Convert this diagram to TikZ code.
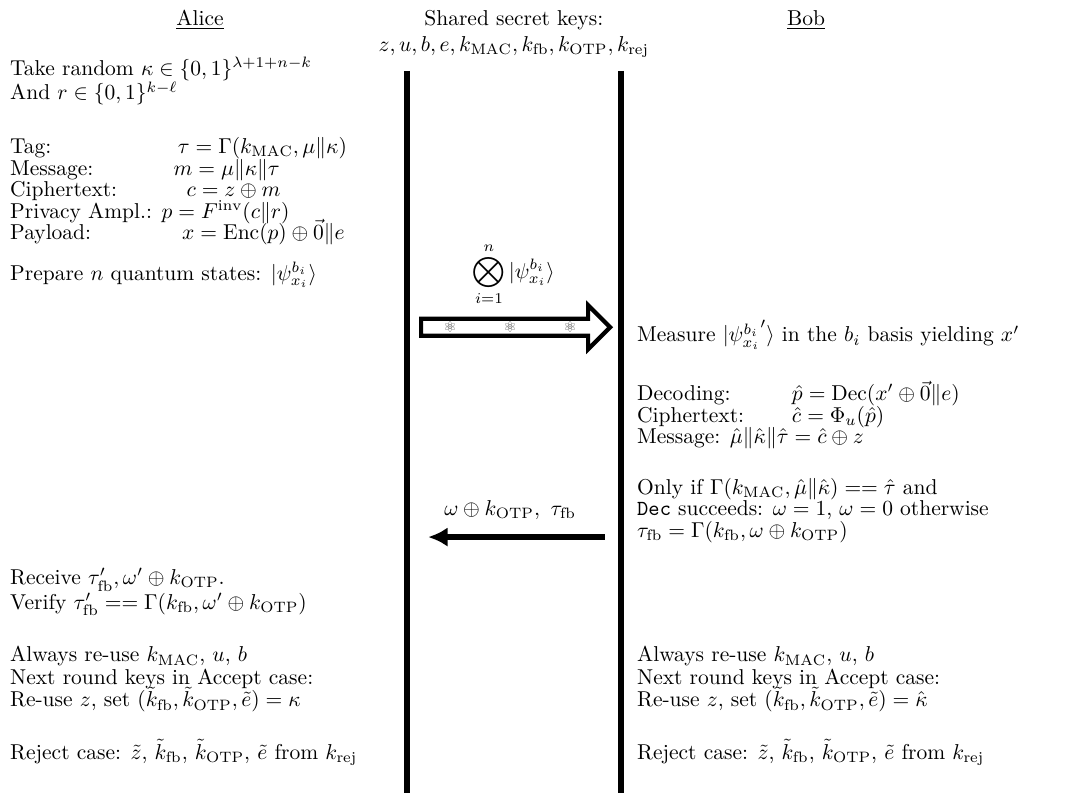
\documentclass[tikz,border=0pt]{standalone}
\usepackage{amsmath}
\usepackage{fontspec}
\newfontfamily\atomfont{DejaVu Sans}
\usetikzlibrary{shapes.arrows,arrows.meta}
% lines of one step block, first baseline on top, fixed line distance
\newcommand{\protocolsteps}[2]{\vtop{\baselineskip=#1\lineskiplimit=-\maxdimen
    \halign{##\hfil\cr#2\crcr}}}

\begin{document}
\begin{tikzpicture}[>=latex,
    txt/.style={anchor=base west,inner sep=0pt},
    party/.style={anchor=base,inner sep=0pt},
    wall/.style={line width=2.8pt},
    qstate/.style={single arrow,draw,line width=1.9pt,fill=white,inner sep=3pt,
        single arrow head extend=6.3pt,minimum height=3.09cm},
    atom/.style={inner sep=0pt,font=\atomfont\scriptsize,text=black!65}]
    \useasboundingbox (0,0) rectangle (17.46,-12.96);

    % headers
    \node[party] (alice) at (3.27,-0.41) {\underline{Alice}};
    \node[party] (bob) at (13.18,-0.41) {\underline{Bob}};
    \node[party] (keys) at (8.40,-0.41) {\vtop{\baselineskip=12.2pt\halign{\hfil#\hfil\cr
        Shared secret keys:\cr
        $z,u,b,e,k_{\mathrm{MAC}},k_{\mathrm{fb}},k_{\mathrm{OTP}},k_{\mathrm{rej}}$\crcr}}};

    % the two walls
    \coordinate (atop) at (6.65,-1.16);
    \coordinate (abot) at (6.65,-12.96);
    \coordinate (btop) at (10.15,-1.16);
    \coordinate (bbot) at (10.15,-12.96);
    \draw [wall] (atop) -- (abot);
    \draw [wall] (btop) -- (bbot);

    % Alice
    \node[txt] (alicerand) at (0.16,-1.23) {\protocolsteps{11.5pt}{Take random $\kappa\in\{0,1\}^{\lambda+1+n-k}$\cr
        And $r\in\{0,1\}^{k-\ell}$}};
    \node[txt] (alicemsg) at (0.16,-2.51) {\protocolsteps{10pt}{\makebox[78pt][l]{Tag:}$\tau=\Gamma(k_{\mathrm{MAC}},\mu\|\kappa)$\cr
        \makebox[76pt][l]{Message:}$m=\mu\|\kappa\|\tau$\cr
        \makebox[82pt][l]{Ciphertext:}$c=z\oplus m$\cr
        Privacy Ampl.: $p=F^{\mathrm{inv}}(c\|r)$\cr
        \makebox[80pt][l]{Payload:}$x=\mathrm{Enc}(p)\oplus\vec{0}\|e$}};
    \node[txt] (aliceprep) at (0.16,-4.58) {Prepare $n$ quantum states: $|\psi^{b_i}_{x_i}\rangle$};
    \node[txt] (alicecheck) at (0.16,-9.56) {\protocolsteps{11.5pt}{Receive $\tau'_{\mathrm{fb}},\omega'\oplus k_{\mathrm{OTP}}$.\cr
        Verify $\tau'_{\mathrm{fb}}==\Gamma(k_{\mathrm{fb}},\omega'\oplus k_{\mathrm{OTP}})$}};
    \node[txt] (alicenext) at (0.16,-10.82) {\protocolsteps{10.5pt}{Always re-use $k_{\mathrm{MAC}}$, $u$, $b$\cr
        Next round keys in Accept case:\cr
        Re-use $z$, set $(\tilde{k}_{\mathrm{fb}},\tilde{k}_{\mathrm{OTP}},\tilde{e})=\kappa$}};
    \node[txt] (alicerej) at (0.16,-12.41) {Reject case: $\tilde{z}$, $\tilde{k}_{\mathrm{fb}}$, $\tilde{k}_{\mathrm{OTP}}$, $\tilde{e}$ from $k_{\mathrm{rej}}$};

    % quantum channel
    \node (qlabel) at (8.40,-4.48) {$\displaystyle\bigotimes_{i=1}^{n}|\psi^{b_i}_{x_i}\rangle$};
    \node[qstate] (qchannel) at (8.36,-5.35) {};
    \foreach \x [count=\i] in {7.36,8.34,9.32}
        \node[atom] (atom\i) at (\x,-5.35) {⚛};

    % Bob
    \node[txt] (bobmeas) at (10.41,-5.59) {Measure $|{\psi^{b_i}_{x_i}}'\rangle$ in the $b_i$ basis yielding $x'$};
    \node[txt] (bobdec) at (10.41,-6.55) {\protocolsteps{10pt}{\makebox[72pt][l]{Decoding:}$\hat{p}=\mathrm{Dec}(x'\oplus\vec{0}\|e)$\cr
        \makebox[72pt][l]{Ciphertext:}$\hat{c}=\Phi_u(\hat{p})$\cr
        Message: $\hat{\mu}\|\hat{\kappa}\|\hat{\tau}=\hat{c}\oplus z$}};
    \node[txt] (bobcheck) at (10.41,-8.08) {\protocolsteps{10pt}{Only if $\Gamma(k_{\mathrm{MAC}},\hat{\mu}\|\hat{\kappa})==\hat{\tau}$ and\cr
        \texttt{Dec} succeeds: $\omega=1$, $\omega=0$ otherwise\cr
        $\tau_{\mathrm{fb}}=\Gamma(k_{\mathrm{fb}},\omega\oplus k_{\mathrm{OTP}})$}};
    \node[txt] (bobnext) at (10.41,-10.82) {\protocolsteps{10.5pt}{Always re-use $k_{\mathrm{MAC}}$, $u$, $b$\cr
        Next round keys in Accept case:\cr
        Re-use $z$, set $(\tilde{k}_{\mathrm{fb}},\tilde{k}_{\mathrm{OTP}},\tilde{e})=\hat{\kappa}$}};
    \node[txt] (bobrej) at (10.41,-12.41) {Reject case: $\tilde{z}$, $\tilde{k}_{\mathrm{fb}}$, $\tilde{k}_{\mathrm{OTP}}$, $\tilde{e}$ from $k_{\mathrm{rej}}$};

    % feedback
    \coordinate (fbfrom) at (9.89,-8.78);
    \coordinate (fbto) at (7.0,-8.78);
    \draw [line width=2.8pt,-{Latex[length=9pt,width=9pt]}] (fbfrom) -- (fbto);
    \node[anchor=base] (fblabel) at (8.34,-8.42) {$\omega\oplus k_{\mathrm{OTP}},\ \tau_{\mathrm{fb}}$};
\end{tikzpicture}
\end{document}
